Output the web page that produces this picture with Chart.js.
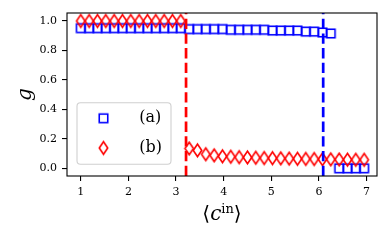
<!DOCTYPE html>
<html>
<head>
<meta charset="utf-8">
<script src="https://cdn.jsdelivr.net/npm/chart.js@4.4.1/dist/chart.umd.min.js"></script>
<style>html, body { margin: 0; padding: 0; background: #fff; }</style>
</head>
<body>
<canvas id="chart" width="391" height="241"></canvas>
<script>
// mean in-degree values (x)
const cinValues = [1.000, 1.175, 1.350, 1.525, 1.700, 1.875, 2.050, 2.225, 2.400, 2.575,
                   2.750, 2.925, 3.100, 3.275, 3.450, 3.625, 3.800, 3.975, 4.150, 4.325,
                   4.500, 4.675, 4.850, 5.025, 5.200, 5.375, 5.550, 5.725, 5.900, 6.075,
                   6.250, 6.425, 6.600, 6.775, 6.950];
// series (a), blue squares
const seriesA = [0.951, 0.951, 0.951, 0.951, 0.951, 0.951, 0.951, 0.951, 0.951, 0.951,
                 0.951, 0.951, 0.951, 0.945, 0.945, 0.945, 0.945, 0.945, 0.940, 0.940,
                 0.940, 0.940, 0.940, 0.935, 0.935, 0.935, 0.935, 0.928, 0.928, 0.922,
                 0.915, 0.000, 0.000, 0.000, 0.000];
// series (b), red diamonds
const seriesB = [1.000, 1.000, 1.000, 1.000, 1.000, 1.000, 1.000, 1.000, 1.000, 1.000,
                 1.000, 1.000, 1.000, 0.135, 0.122, 0.096, 0.088, 0.082, 0.079, 0.076,
                 0.074, 0.072, 0.070, 0.069, 0.068, 0.066, 0.065, 0.064, 0.063, 0.062,
                 0.061, 0.060, 0.059, 0.058, 0.058];
const seriesLabels = ['(a)', '(b)'];
// transition points (dashed vertical lines): (b), (a)
const thresholds = [3.21, 6.09];
const xTicks = [1, 2, 3, 4, 5, 6, 7];
const yTicks = [0.0, 0.2, 0.4, 0.6, 0.8, 1.0];
const xRange = [0.71, 7.22];
const yRange = [-0.052, 1.054];

const blue = '#0000ff';
const red = '#ff0000';
const serif = '"DejaVu Serif", serif';

const makeSquare = (size, color) => {
    let c = document.createElement('canvas');
    c.width = c.height = Math.ceil(size) + 4;
    let g = c.getContext('2d');
    g.strokeStyle = color;
    g.lineWidth = 1.6;
    g.strokeRect((c.width - size) / 2, (c.height - size) / 2, size, size);
    return c;
};

const makeDiamond = (w, h, color) => {
    let c = document.createElement('canvas');
    c.width = Math.ceil(w) + 4;
    c.height = Math.ceil(h) + 4;
    let g = c.getContext('2d');
    let cx = c.width / 2, cy = c.height / 2;
    g.beginPath();
    g.moveTo(cx, cy - h / 2);
    g.lineTo(cx + w / 2, cy);
    g.lineTo(cx, cy + h / 2);
    g.lineTo(cx - w / 2, cy);
    g.closePath();
    g.strokeStyle = color;
    g.lineWidth = 1.6;
    g.stroke();
    return c;
};

const squareMarker = makeSquare(8.5, blue);
const diamondMarker = makeDiamond(8.5, 12.5, red);

const decorations = {
    id: 'decorations',
    afterDatasetsDraw(chart) {
        const { ctx, chartArea: a } = chart;
        ctx.save();
        // frame
        ctx.strokeStyle = '#000';
        ctx.lineWidth = 1.1;
        ctx.strokeRect(a.left, a.top, a.right - a.left, a.bottom - a.top);
        ctx.restore();
    },
    afterDraw(chart) {
        const { ctx, chartArea: a } = chart;
        ctx.save();
        ctx.fillStyle = '#000';

        // y label
        ctx.save();
        ctx.translate(25.5, (a.top + a.bottom) / 2);
        ctx.rotate(-Math.PI / 2);
        ctx.font = 'italic 20px ' + serif;
        ctx.textAlign = 'center';
        ctx.textBaseline = 'middle';
        ctx.fillText('g', 0, 0);
        ctx.restore();

        // x label  <c^in>
        const big = '20px ' + serif, ital = 'italic 20px ' + serif, small = '13px ' + serif;
        const parts = [['\u27E8', big, 0], ['c', ital, 0], ['in', small, -7], ['\u27E9', big, 0]];
        let widths = parts.map(p => { ctx.font = p[1]; return ctx.measureText(p[0]).width; });
        let x = (a.left + a.right) / 2 - widths.reduce((s, w) => s + w, 0) / 2;
        const baseline = 220;
        ctx.textBaseline = 'alphabetic';
        ctx.textAlign = 'left';
        parts.forEach((p, i) => {
            ctx.font = p[1];
            ctx.fillText(p[0], x, baseline + p[2]);
            x += widths[i];
        });

        // legend
        const lx = a.left + 10, ly = a.top + 89.7, lw = 94, lh = 61.6, r = 3.5;
        ctx.beginPath();
        ctx.moveTo(lx + r, ly);
        ctx.arcTo(lx + lw, ly, lx + lw, ly + lh, r);
        ctx.arcTo(lx + lw, ly + lh, lx, ly + lh, r);
        ctx.arcTo(lx, ly + lh, lx, ly, r);
        ctx.arcTo(lx, ly, lx + lw, ly, r);
        ctx.closePath();
        ctx.fillStyle = 'rgba(255,255,255,0.8)';
        ctx.fill();
        ctx.strokeStyle = '#d0d0d0';
        ctx.lineWidth = 1.1;
        ctx.stroke();

        const markers = [squareMarker, diamondMarker];
        const rowsY = [ly + 15.6, ly + 45.3];
        markers.forEach((m, i) => {
            ctx.drawImage(m, lx + 26.5 - m.width / 2, rowsY[i] - m.height / 2);
        });
        ctx.fillStyle = '#000';
        ctx.font = '16px ' + serif;
        ctx.textBaseline = 'middle';
        seriesLabels.forEach((t, i) => ctx.fillText(t, lx + 62.3, rowsY[i]));
        ctx.restore();
    }
};

const points = ys => cinValues.map((x, i) => ({ x: x, y: ys[i] }));
const vline = (x, color) => ({
    type: 'line',
    data: [{ x: x, y: yRange[0] }, { x: x, y: yRange[1] }],
    borderColor: color,
    borderWidth: 2.7,
    borderDash: [10.3, 4.4],
    pointRadius: 0,
    fill: false,
    order: 0
});

document.addEventListener('DOMContentLoaded', () => {
    new Chart(document.getElementById('chart'), {
        type: 'scatter',
        data: {
            datasets: [
                vline(thresholds[0], red),
                vline(thresholds[1], blue),
                {
                    label: seriesLabels[1],
                    data: points(seriesB),
                    pointStyle: diamondMarker,
                    pointRadius: 5,
                    order: 1
                },
                {
                    label: seriesLabels[0],
                    data: points(seriesA),
                    pointStyle: squareMarker,
                    pointRadius: 5,
                    order: 2
                }
            ]
        },
        options: {
            responsive: false,
            animation: false,
            devicePixelRatio: 1,
            layout: { padding: { left: 0, right: 14, top: 13, bottom: 0 } },
            plugins: {
                legend: { display: false },
                tooltip: { enabled: false }
            },
            scales: {
                x: {
                    type: 'linear',
                    min: xRange[0],
                    max: xRange[1],
                    afterBuildTicks: s => { s.ticks = xTicks.map(v => ({ value: v })); },
                    afterFit: s => { s.height = 65; },
                    grid: { drawOnChartArea: false, drawTicks: true, tickLength: 5, color: '#000', lineWidth: 1.1 },
                    border: { display: false },
                    ticks: {
                        autoSkip: false,
                        maxRotation: 0,
                        padding: 5,
                        color: '#000',
                        font: { family: serif, size: 11 },
                        callback: v => String(v)
                    }
                },
                y: {
                    type: 'linear',
                    min: yRange[0],
                    max: yRange[1],
                    afterBuildTicks: s => { s.ticks = yTicks.map(v => ({ value: v })); },
                    afterFit: s => { s.width = 67; },
                    grid: { drawOnChartArea: false, drawTicks: true, tickLength: 5, color: '#000', lineWidth: 1.1 },
                    border: { display: false },
                    ticks: {
                        autoSkip: false,
                        padding: 5,
                        color: '#000',
                        font: { family: serif, size: 11 },
                        callback: v => v.toFixed(1)
                    }
                }
            }
        },
        plugins: [decorations]
    });
});
</script>
</body>
</html>
